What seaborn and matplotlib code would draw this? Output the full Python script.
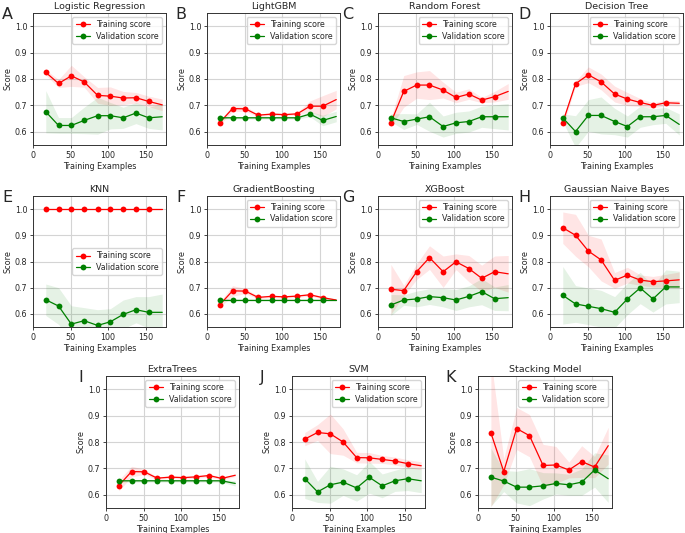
import matplotlib
matplotlib.use("Agg")
import matplotlib.pyplot as plt
import seaborn as sns
import numpy as np

train_sizes = [17, 34, 51, 68, 86, 103, 120, 137, 154, 172]

letters = ["A", "B", "C", "D", "E", "F", "G", "H", "I", "J", "K"]
models = ["Logistic Regression", "LightGBM", "Random Forest", "Decision Tree",
          "KNN", "GradientBoosting", "XGBoost", "Gaussian Naive Bayes",
          "ExtraTrees", "SVM", "Stacking Model"]

train_mean = [
    [0.825, 0.783, 0.812, 0.789, 0.738, 0.735, 0.728, 0.729, 0.715, 0.702],
    [0.635, 0.688, 0.687, 0.663, 0.667, 0.665, 0.668, 0.697, 0.697, 0.722],
    [0.635, 0.753, 0.777, 0.777, 0.758, 0.730, 0.743, 0.720, 0.733, 0.753],
    [0.635, 0.782, 0.816, 0.789, 0.743, 0.724, 0.711, 0.700, 0.710, 0.708],
    [1.000, 1.000, 1.000, 1.000, 1.000, 1.000, 1.000, 1.000, 1.000, 1.000],
    [0.635, 0.688, 0.687, 0.663, 0.667, 0.665, 0.668, 0.673, 0.662, 0.653],
    [0.694, 0.689, 0.761, 0.815, 0.761, 0.799, 0.773, 0.736, 0.761, 0.753],
    [0.929, 0.900, 0.840, 0.806, 0.728, 0.748, 0.729, 0.723, 0.726, 0.730],
    [0.635, 0.688, 0.687, 0.663, 0.667, 0.665, 0.668, 0.673, 0.662, 0.674],
    [0.811, 0.836, 0.831, 0.800, 0.741, 0.740, 0.734, 0.728, 0.718, 0.710],
    [0.835, 0.688, 0.851, 0.824, 0.711, 0.713, 0.694, 0.726, 0.705, 0.786],
]
train_std = [
    [0.010, 0.015, 0.040, 0.020, 0.030, 0.035, 0.025, 0.020, 0.020, 0.022],
    [0.010, 0.010, 0.010, 0.005, 0.005, 0.005, 0.005, 0.020, 0.040, 0.035],
    [0.015, 0.060, 0.050, 0.055, 0.030, 0.020, 0.020, 0.010, 0.020, 0.030],
    [0.015, 0.010, 0.030, 0.030, 0.030, 0.025, 0.015, 0.010, 0.010, 0.010],
    [0.000, 0.000, 0.000, 0.000, 0.000, 0.000, 0.000, 0.000, 0.000, 0.000],
    [0.010, 0.020, 0.010, 0.005, 0.005, 0.005, 0.005, 0.005, 0.005, 0.003],
    [0.095, 0.020, 0.030, 0.045, 0.060, 0.030, 0.050, 0.050, 0.060, 0.070],
    [0.060, 0.080, 0.060, 0.080, 0.030, 0.030, 0.020, 0.020, 0.025, 0.030],
    [0.020, 0.020, 0.010, 0.005, 0.005, 0.005, 0.005, 0.005, 0.005, 0.005],
    [0.025, 0.030, 0.075, 0.050, 0.020, 0.020, 0.015, 0.015, 0.015, 0.015],
    [0.280, 0.050, 0.080, 0.080, 0.080, 0.070, 0.030, 0.060, 0.040, 0.070],
]
val_mean = [
    [0.676, 0.624, 0.624, 0.643, 0.661, 0.661, 0.653, 0.671, 0.653, 0.657],
    [0.653, 0.653, 0.653, 0.653, 0.653, 0.653, 0.653, 0.667, 0.643, 0.658],
    [0.653, 0.639, 0.648, 0.657, 0.620, 0.634, 0.639, 0.657, 0.657, 0.657],
    [0.653, 0.601, 0.662, 0.662, 0.639, 0.620, 0.657, 0.657, 0.662, 0.628],
    [0.654, 0.630, 0.561, 0.574, 0.556, 0.570, 0.598, 0.616, 0.606, 0.606],
    [0.653, 0.653, 0.653, 0.653, 0.653, 0.653, 0.653, 0.653, 0.653, 0.653],
    [0.634, 0.653, 0.657, 0.666, 0.662, 0.653, 0.667, 0.685, 0.658, 0.662],
    [0.671, 0.638, 0.629, 0.620, 0.606, 0.657, 0.699, 0.657, 0.703, 0.703],
    [0.653, 0.653, 0.653, 0.653, 0.653, 0.653, 0.653, 0.653, 0.653, 0.643],
    [0.661, 0.611, 0.638, 0.648, 0.626, 0.666, 0.634, 0.653, 0.661, 0.653],
    [0.667, 0.652, 0.629, 0.629, 0.634, 0.643, 0.638, 0.648, 0.694, 0.661],
]
val_std = [
    [0.080, 0.030, 0.030, 0.050, 0.070, 0.050, 0.040, 0.040, 0.040, 0.050],
    [0.005, 0.005, 0.005, 0.005, 0.005, 0.005, 0.005, 0.010, 0.020, 0.020],
    [0.015, 0.030, 0.020, 0.055, 0.040, 0.040, 0.040, 0.040, 0.045, 0.050],
    [0.015, 0.060, 0.060, 0.070, 0.050, 0.040, 0.040, 0.030, 0.030, 0.040],
    [0.060, 0.070, 0.070, 0.050, 0.060, 0.050, 0.055, 0.050, 0.060, 0.070],
    [0.003, 0.003, 0.003, 0.003, 0.003, 0.003, 0.003, 0.003, 0.003, 0.003],
    [0.040, 0.020, 0.030, 0.030, 0.035, 0.040, 0.040, 0.050, 0.045, 0.050],
    [0.110, 0.070, 0.070, 0.070, 0.060, 0.060, 0.060, 0.050, 0.065, 0.060],
    [0.005, 0.005, 0.005, 0.005, 0.005, 0.005, 0.005, 0.005, 0.005, 0.010],
    [0.075, 0.040, 0.070, 0.050, 0.050, 0.060, 0.045, 0.040, 0.045, 0.045],
    [0.110, 0.040, 0.060, 0.070, 0.050, 0.040, 0.040, 0.050, 0.065, 0.090],
]

W, H = 685, 533
# axes boxes in pixels: left, top, right, bottom
rows = [(13, 145), (196, 327), (376, 508)]
cols_top = [(33, 166), (207, 340), (378, 512), (550, 683)]
cols_bot = [(106, 239), (292, 425), (478, 612)]
boxes = []
for r in range(2):
    for c in cols_top:
        boxes.append((c[0], rows[r][0], c[1], rows[r][1]))
for c in cols_bot:
    boxes.append((c[0], rows[2][0], c[1], rows[2][1]))
letter_x = [2, 175, 342, 518, 2, 176, 342, 518, 78, 260, 445]

sns.set_style("ticks")
plt.rcParams["font.family"] = ["DejaVu Sans"]

fig = plt.figure(figsize=(W / 100, H / 100), dpi=100)

for i, name in enumerate(models):
    l, t, r, b = boxes[i]
    ax = fig.add_axes([l / W, 1 - b / H, (r - l) / W, (b - t) / H])
    tm, ts = np.array(train_mean[i]), np.array(train_std[i])
    vm, vs = np.array(val_mean[i]), np.array(val_std[i])
    ax.grid(True, color="#d4d4d4", linewidth=0.8)
    ax.fill_between(train_sizes, tm - ts, tm + ts, color="r", alpha=0.1, linewidth=0)
    ax.fill_between(train_sizes, vm - vs, vm + vs, color="g", alpha=0.1, linewidth=0)
    sns.lineplot(x=train_sizes, y=tm, color="r", marker="o", markersize=4.2,
                 markeredgewidth=0, linewidth=0.9, markevery=list(range(9)),
                 label="Training score", ax=ax)
    sns.lineplot(x=train_sizes, y=vm, color="g", marker="o", markersize=4.2,
                 markeredgewidth=0, linewidth=0.9, markevery=list(range(9)),
                 label="Validation score", ax=ax)
    ax.set_xlim(0, 177)
    ax.set_ylim(0.55, 1.05)
    ax.set_xticks([0, 50, 100, 150])
    ax.set_yticks([0.6, 0.7, 0.8, 0.9, 1.0])
    ax.tick_params(labelsize=5.8, length=2.5, width=0.6, pad=1.5)
    for s in ax.spines.values():
        s.set_linewidth(0.7)
        s.set_color("#333333")
    ax.set_title(name, fontsize=6.8, pad=3)
    ax.set_xlabel("Training Examples", fontsize=5.8, labelpad=1.5)
    ax.set_ylabel("Score", fontsize=5.8, labelpad=2)
    loc = "center right" if name == "KNN" else "upper right"
    ax.legend(loc=loc, fontsize=5.7, handlelength=1.8, borderpad=0.4,
              labelspacing=0.3, framealpha=0.8)
    fig.text(letter_x[i] / W, 1 - (t + 6) / H, letters[i], fontsize=11.5,
             va="baseline", ha="left")

fig.savefig("out.png", dpi=100)
